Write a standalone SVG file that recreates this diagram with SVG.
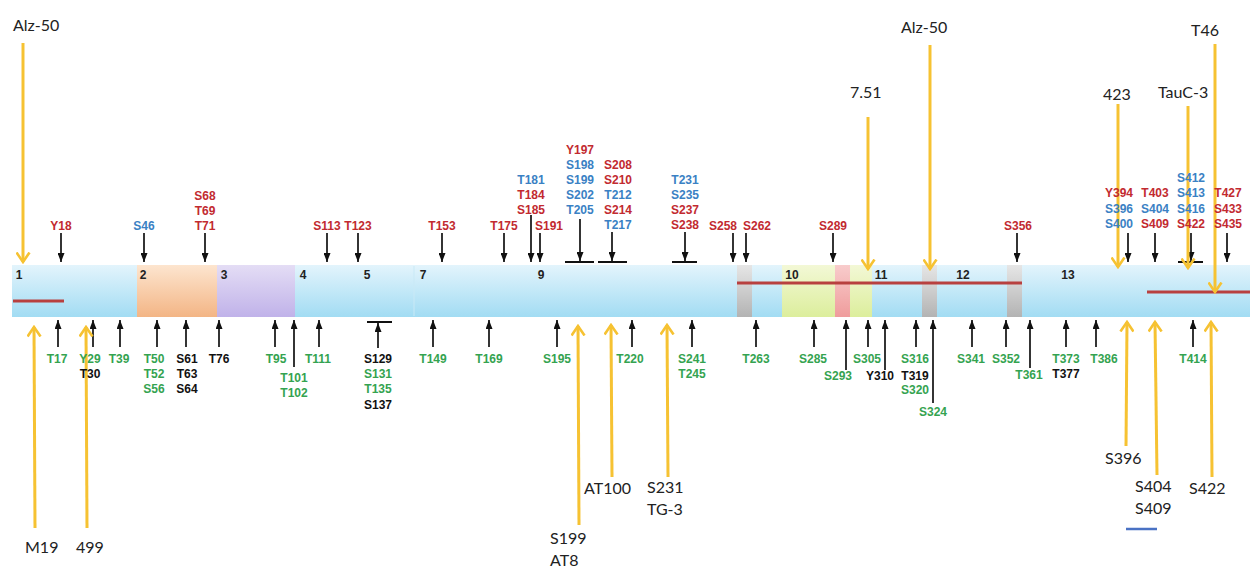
<svg xmlns="http://www.w3.org/2000/svg" width="1250" height="567" viewBox="0 0 1250 567">
<defs>
<linearGradient id="gBlue" x1="0" y1="0" x2="0" y2="1"><stop offset="0" stop-color="#e3f4fc"/><stop offset="1" stop-color="#a2dcf3"/></linearGradient>
<linearGradient id="gOrange" x1="0" y1="0" x2="0" y2="1"><stop offset="0" stop-color="#fde5cf"/><stop offset="1" stop-color="#f3b585"/></linearGradient>
<linearGradient id="gPurple" x1="0" y1="0" x2="0" y2="1"><stop offset="0" stop-color="#e4ddf5"/><stop offset="1" stop-color="#c0b2e9"/></linearGradient>
<linearGradient id="gLime" x1="0" y1="0" x2="0" y2="1"><stop offset="0" stop-color="#f3f8d6"/><stop offset="1" stop-color="#dcee9c"/></linearGradient>
<linearGradient id="gPink" x1="0" y1="0" x2="0" y2="1"><stop offset="0" stop-color="#f8cccc"/><stop offset="1" stop-color="#ef9c9c"/></linearGradient>
<linearGradient id="gGray" x1="0" y1="0" x2="0" y2="1"><stop offset="0" stop-color="#e6e6e6"/><stop offset="1" stop-color="#b3b3b3"/></linearGradient>
<marker id="ah" viewBox="0 0 9 7" refX="9" refY="3.5" markerWidth="9" markerHeight="7" markerUnits="userSpaceOnUse" orient="auto"><path d="M0,0 L9,3.5 L0,7 z" fill="#111"/></marker>
<marker id="yh" viewBox="0 0 12 15" refX="10.5" refY="7.5" markerWidth="12" markerHeight="15" markerUnits="userSpaceOnUse" orient="auto"><path d="M1,1 L10.5,7.5 L1,14" fill="none" stroke="#f6c232" stroke-width="2.6"/></marker>
</defs>
<style>
.s{font-family:"Liberation Sans",Arial,sans-serif;font-weight:bold;font-size:12px;text-anchor:middle}
.n{font-family:"Liberation Sans",Arial,sans-serif;font-weight:bold;font-size:12px;fill:#222;text-anchor:middle}
.ab{font-family:Lato,"Liberation Sans",sans-serif;font-size:16px;fill:#222}
.r{fill:#c22a30}.b{fill:#3a81c4}.g{fill:#34a350}.k{fill:#111}
.ar{stroke:#111;stroke-width:1.7;fill:none;marker-end:url(#ah)}
.bar{stroke:#111;stroke-width:2}
.y{stroke:#f6c232;stroke-width:3;fill:none;marker-end:url(#yh)}
.red{stroke:#b8403f;stroke-width:3}
</style>
<rect width="1250" height="567" fill="#fff"/>
<g id="protein">
<rect x="12" y="265" width="1238" height="52" fill="url(#gBlue)"/>
<rect x="137" y="265" width="80" height="52" fill="url(#gOrange)"/>
<rect x="217" y="265" width="78" height="52" fill="url(#gPurple)"/>
<rect x="782" y="265" width="90" height="52" fill="url(#gLime)"/>
<rect x="835" y="265" width="15" height="52" fill="url(#gPink)"/>
<rect x="737" y="265" width="15" height="52" fill="url(#gGray)"/>
<rect x="922" y="265" width="15" height="52" fill="url(#gGray)"/>
<rect x="1007" y="265" width="15" height="52" fill="url(#gGray)"/>
<line x1="414" y1="266" x2="414" y2="316" stroke="#c9e9f6" stroke-width="1"/>
<line x1="13" y1="301" x2="64" y2="301" class="red"/>
<line x1="737" y1="283" x2="1022" y2="283" class="red"/>
<line x1="1147" y1="292" x2="1250" y2="292" class="red"/>
<text class="n" x="19" y="279">1</text>
<text class="n" x="143" y="279">2</text>
<text class="n" x="224" y="279">3</text>
<text class="n" x="303" y="279">4</text>
<text class="n" x="367" y="279">5</text>
<text class="n" x="423" y="279">7</text>
<text class="n" x="541" y="279">9</text>
<text class="n" x="792" y="279">10</text>
<text class="n" x="881" y="279">11</text>
<text class="n" x="963" y="279">12</text>
<text class="n" x="1068" y="279">13</text>
</g>
<g id="connectors">
<line class="ar" x1="61" y1="233" x2="61" y2="262"/>
<line class="ar" x1="144" y1="233" x2="144" y2="262"/>
<line class="ar" x1="205" y1="233" x2="205" y2="262"/>
<line class="ar" x1="327" y1="233" x2="327" y2="262"/>
<line class="ar" x1="358" y1="233" x2="358" y2="262"/>
<line class="ar" x1="442" y1="233" x2="442" y2="262"/>
<line class="ar" x1="504" y1="233" x2="504" y2="262"/>
<line class="ar" x1="531" y1="215" x2="531" y2="262"/>
<line class="ar" x1="540" y1="233" x2="540" y2="262"/>
<line class="ar" x1="580" y1="219" x2="580" y2="261"/>
<line class="bar" x1="565" y1="262" x2="594" y2="262"/>
<line class="ar" x1="612" y1="232" x2="612" y2="261"/>
<line class="bar" x1="598" y1="262" x2="627" y2="262"/>
<line class="ar" x1="685" y1="232" x2="685" y2="261"/>
<line class="bar" x1="672" y1="262" x2="697" y2="262"/>
<line class="ar" x1="733" y1="233" x2="733" y2="262"/>
<line class="ar" x1="746" y1="233" x2="746" y2="262"/>
<line class="ar" x1="833" y1="233" x2="833" y2="262"/>
<line class="ar" x1="1017" y1="233" x2="1017" y2="262"/>
<line class="ar" x1="1128" y1="233" x2="1128" y2="262"/>
<line class="ar" x1="1155" y1="233" x2="1155" y2="262"/>
<line class="ar" x1="1191" y1="233" x2="1191" y2="261"/>
<line class="bar" x1="1178" y1="262" x2="1203" y2="262"/>
<line class="ar" x1="1227" y1="233" x2="1227" y2="262"/>
<line class="ar" x1="58" y1="347" x2="58" y2="320"/>
<line class="ar" x1="93" y1="347" x2="93" y2="320"/>
<line class="ar" x1="120" y1="347" x2="120" y2="320"/>
<line class="ar" x1="157" y1="347" x2="157" y2="320"/>
<line class="ar" x1="186" y1="347" x2="186" y2="320"/>
<line class="ar" x1="219" y1="347" x2="219" y2="320"/>
<line class="ar" x1="275" y1="347" x2="275" y2="320"/>
<line class="ar" x1="294" y1="367" x2="294" y2="320"/>
<line class="ar" x1="319" y1="347" x2="319" y2="320"/>
<line class="ar" x1="378" y1="348" x2="378" y2="323"/>
<line class="bar" x1="367" y1="322" x2="392" y2="322"/>
<line class="ar" x1="433" y1="347" x2="433" y2="320"/>
<line class="ar" x1="489" y1="347" x2="489" y2="320"/>
<line class="ar" x1="557" y1="347" x2="557" y2="320"/>
<line class="ar" x1="632" y1="347" x2="632" y2="320"/>
<line class="ar" x1="692" y1="347" x2="692" y2="320"/>
<line class="ar" x1="756" y1="347" x2="756" y2="320"/>
<line class="ar" x1="814" y1="347" x2="814" y2="320"/>
<line class="ar" x1="846" y1="370" x2="846" y2="320"/>
<line class="ar" x1="868" y1="347" x2="868" y2="320"/>
<line class="ar" x1="885" y1="370" x2="885" y2="320"/>
<line class="ar" x1="916" y1="347" x2="916" y2="320"/>
<line class="ar" x1="933" y1="403" x2="933" y2="320"/>
<line class="ar" x1="972" y1="347" x2="972" y2="320"/>
<line class="ar" x1="1006" y1="347" x2="1006" y2="320"/>
<line class="ar" x1="1030" y1="368" x2="1030" y2="320"/>
<line class="ar" x1="1066" y1="347" x2="1066" y2="320"/>
<line class="ar" x1="1096" y1="347" x2="1096" y2="320"/>
<line class="ar" x1="1193" y1="347" x2="1193" y2="320"/>
<line class="y" x1="23" y1="43" x2="23" y2="262"/>
<line class="y" x1="868" y1="117" x2="868" y2="269"/>
<line class="y" x1="930" y1="45" x2="930" y2="269"/>
<line class="y" x1="1118" y1="104" x2="1118" y2="267"/>
<line class="y" x1="1188" y1="106" x2="1188" y2="268"/>
<line class="y" x1="1215" y1="44" x2="1215" y2="292"/>
<line class="y" x1="35" y1="528" x2="34" y2="327"/>
<line class="y" x1="87" y1="528" x2="86" y2="327"/>
<line class="y" x1="579" y1="525" x2="578" y2="326"/>
<line class="y" x1="612" y1="477" x2="611" y2="325"/>
<line class="y" x1="668" y1="477" x2="667" y2="325"/>
<line class="y" x1="1126" y1="446" x2="1127" y2="322"/>
<line class="y" x1="1157" y1="475" x2="1155" y2="322"/>
<line class="y" x1="1212" y1="477" x2="1211" y2="322"/>
<line x1="1126" y1="529" x2="1157" y2="529" stroke="#4a72c4" stroke-width="2.5"/>
</g>
<g id="sites-top">
<g id="t-Y18"><text class="s r" x="61" y="230">Y18</text></g>
<g id="t-S46"><text class="s b" x="144" y="230">S46</text></g>
<g id="t-S68"><text class="s r" x="205" y="200">S68</text><text class="s r" x="205" y="215">T69</text><text class="s r" x="205" y="230">T71</text></g>
<g id="t-S113"><text class="s r" x="327" y="230">S113</text></g>
<g id="t-T123"><text class="s r" x="358" y="230">T123</text></g>
<g id="t-T153"><text class="s r" x="442" y="230">T153</text></g>
<g id="t-T175"><text class="s r" x="504" y="230">T175</text></g>
<g id="t-T181"><text class="s b" x="531" y="184">T181</text><text class="s r" x="531" y="199">T184</text><text class="s r" x="531" y="214">S185</text></g>
<g id="t-S191"><text class="s r" x="549" y="230">S191</text></g>
<g id="t-Y197"><text class="s r" x="580" y="154">Y197</text><text class="s b" x="580" y="169">S198</text><text class="s b" x="580" y="184">S199</text><text class="s b" x="580" y="199">S202</text><text class="s b" x="580" y="214">T205</text></g>
<g id="t-S208"><text class="s r" x="618" y="169">S208</text><text class="s r" x="618" y="184">S210</text><text class="s b" x="618" y="199">T212</text><text class="s r" x="618" y="214">S214</text><text class="s b" x="618" y="229">T217</text></g>
<g id="t-T231"><text class="s b" x="685" y="184">T231</text><text class="s b" x="685" y="199">S235</text><text class="s r" x="685" y="214">S237</text><text class="s r" x="685" y="229">S238</text></g>
<g id="t-S258"><text class="s r" x="723" y="230">S258</text></g>
<g id="t-S262"><text class="s r" x="757" y="230">S262</text></g>
<g id="t-S289"><text class="s r" x="833" y="230">S289</text></g>
<g id="t-S356"><text class="s r" x="1018" y="230">S356</text></g>
<g id="t-Y394"><text class="s r" x="1119" y="197">Y394</text><text class="s b" x="1119" y="213">S396</text><text class="s b" x="1119" y="228">S400</text></g>
<g id="t-T403"><text class="s r" x="1155" y="197">T403</text><text class="s b" x="1155" y="213">S404</text><text class="s r" x="1155" y="228">S409</text></g>
<g id="t-S412"><text class="s b" x="1191" y="182">S412</text><text class="s b" x="1191" y="197">S413</text><text class="s b" x="1191" y="213">S416</text><text class="s r" x="1191" y="228">S422</text></g>
<g id="t-T427"><text class="s r" x="1228" y="197">T427</text><text class="s r" x="1228" y="213">S433</text><text class="s r" x="1228" y="228">S435</text></g>
</g>
<g id="sites-bottom">
<g id="b-T17"><text class="s g" x="57" y="363">T17</text></g>
<g id="b-Y29"><text class="s g" x="90" y="363">Y29</text><text class="s k" x="90" y="378">T30</text></g>
<g id="b-T39"><text class="s g" x="119" y="363">T39</text></g>
<g id="b-T50"><text class="s g" x="154" y="363">T50</text><text class="s g" x="154" y="378">T52</text><text class="s g" x="154" y="393">S56</text></g>
<g id="b-S61"><text class="s k" x="187" y="363">S61</text><text class="s k" x="187" y="378">T63</text><text class="s k" x="187" y="393">S64</text></g>
<g id="b-T76"><text class="s k" x="219" y="363">T76</text></g>
<g id="b-T95"><text class="s g" x="276" y="363">T95</text></g>
<g id="b-T101"><text class="s g" x="294" y="382">T101</text><text class="s g" x="294" y="397">T102</text></g>
<g id="b-T111"><text class="s g" x="318" y="363">T111</text></g>
<g id="b-S129"><text class="s k" x="378" y="363">S129</text><text class="s g" x="378" y="378">S131</text><text class="s g" x="378" y="393">T135</text><text class="s k" x="378" y="409">S137</text></g>
<g id="b-T149"><text class="s g" x="433" y="363">T149</text></g>
<g id="b-T169"><text class="s g" x="489" y="363">T169</text></g>
<g id="b-S195"><text class="s g" x="557" y="363">S195</text></g>
<g id="b-T220"><text class="s g" x="630" y="363">T220</text></g>
<g id="b-S241"><text class="s g" x="692" y="363">S241</text><text class="s g" x="692" y="378">T245</text></g>
<g id="b-T263"><text class="s g" x="756" y="363">T263</text></g>
<g id="b-S285"><text class="s g" x="813" y="363">S285</text></g>
<g id="b-S293"><text class="s g" x="838" y="380">S293</text></g>
<g id="b-S305"><text class="s g" x="867" y="363">S305</text></g>
<g id="b-Y310"><text class="s k" x="880" y="380">Y310</text></g>
<g id="b-S316"><text class="s g" x="915" y="363">S316</text><text class="s k" x="915" y="380">T319</text><text class="s g" x="915" y="394">S320</text></g>
<g id="b-S324"><text class="s g" x="933" y="416">S324</text></g>
<g id="b-S341"><text class="s g" x="971" y="363">S341</text></g>
<g id="b-S352"><text class="s g" x="1006" y="363">S352</text></g>
<g id="b-T361"><text class="s g" x="1029" y="379">T361</text></g>
<g id="b-T373"><text class="s g" x="1066" y="363">T373</text><text class="s k" x="1066" y="378">T377</text></g>
<g id="b-T386"><text class="s g" x="1104" y="363">T386</text></g>
<g id="b-T414"><text class="s g" x="1193" y="363">T414</text></g>
</g>
<g id="antibodies">
<g id="ab-Alz50-1"><text class="ab" x="13" y="31">Alz-50</text></g>
<g id="ab-751"><text class="ab" x="850" y="98">7.51</text></g>
<g id="ab-Alz50-2"><text class="ab" x="901" y="33">Alz-50</text></g>
<g id="ab-423"><text class="ab" x="1103" y="100">423</text></g>
<g id="ab-TauC3"><text class="ab" x="1158" y="98">TauC-3</text></g>
<g id="ab-T46"><text class="ab" x="1191" y="36">T46</text></g>
<g id="ab-M19"><text class="ab" x="25" y="553">M19</text></g>
<g id="ab-499"><text class="ab" x="76" y="553">499</text></g>
<g id="ab-AT8"><text class="ab" x="550" y="544">S199</text><text class="ab" x="550" y="566">AT8</text></g>
<g id="ab-AT100"><text class="ab" x="584" y="494">AT100</text></g>
<g id="ab-TG3"><text class="ab" x="647" y="493">S231</text><text class="ab" x="647" y="515">TG-3</text></g>
<g id="ab-S396"><text class="ab" x="1105" y="464">S396</text></g>
<g id="ab-S404"><text class="ab" x="1135" y="492">S404</text><text class="ab" x="1135" y="514">S409</text></g>
<g id="ab-S422"><text class="ab" x="1189" y="494">S422</text></g>
</g>
</svg>
